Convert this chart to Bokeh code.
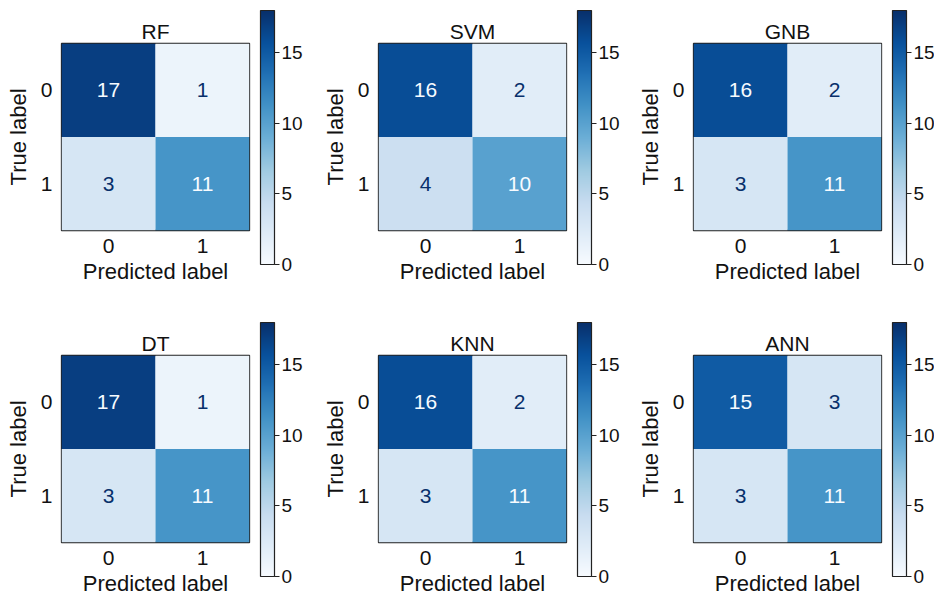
import numpy as np
from bokeh.plotting import figure
from bokeh.models import ColumnDataSource, LinearColorMapper, FixedTicker, Range1d, ColorBar
from bokeh.layouts import row, column
from bokeh.palettes import Blues256
from bokeh.transform import transform
from bokeh.core.properties import value
from bokeh.embed import file_html
from bokeh.resources import INLINE

# ---- data -------------------------------------------------------------
models = ["RF", "SVM", "GNB", "DT", "KNN", "ANN"]
cm_rf = [[17, 1], [3, 11]]
cm_svm = [[16, 2], [4, 10]]
cm_gnb = [[16, 2], [3, 11]]
cm_dt = [[17, 1], [3, 11]]
cm_knn = [[16, 2], [3, 11]]
cm_ann = [[15, 3], [3, 11]]
matrices = [cm_rf, cm_svm, cm_gnb, cm_dt, cm_knn, cm_ann]
class_labels = ["0", "1"]
cbar_ticks = [0, 5, 10, 15]
vmin, vmax = 0, 18

FONT = "Liberation Sans"
TXT = "#111111"
EDGE = "#222222"
palette = tuple(reversed(Blues256))
mapper = LinearColorMapper(palette=palette, low=vmin, high=vmax)
threshold = (vmin + vmax) / 2.0


def panel(title, cm, top_b, bottom_b, left_b, right_b):
    xs, ys, vals, txt, tcol = [], [], [], [], []
    for i in range(len(cm)):
        for j in range(len(cm[i])):
            xs.append(j)
            ys.append(i)
            vals.append(cm[i][j])
            txt.append(str(cm[i][j]))
            tcol.append("#f7fbff" if cm[i][j] > threshold else "#08306b")
    src = ColumnDataSource(dict(x=xs, y=ys, v=vals, t=txt, c=tcol))
    p = figure(output_backend="svg", toolbar_location=None,
               frame_width=188, frame_height=187,
               x_range=Range1d(-0.5, 1.5), y_range=Range1d(1.5, -0.5),
               min_border_left=left_b, min_border_right=right_b,
               min_border_top=top_b, min_border_bottom=bottom_b,
               title=title)
    p.rect(x="x", y="y", width=1, height=1, source=src,
           fill_color=transform("v", mapper), line_color=None)
    p.text(x="x", y="y", text="t", text_color="c", source=src,
           text_align="center", text_baseline="middle",
           text_font=value(FONT), text_font_size="21px")
    p.grid.visible = False
    p.outline_line_color = EDGE
    p.outline_line_width = 1.3
    p.title.align = "center"
    p.title.text_font = FONT
    p.title.text_font_size = "21px"
    p.title.text_font_style = "normal"
    p.title.text_color = TXT
    p.title.standoff = 2
    for ax in (p.xaxis[0], p.yaxis[0]):
        ax.ticker = FixedTicker(ticks=[0, 1])
        ax.major_label_overrides = {0: class_labels[0], 1: class_labels[1]}
        ax.major_tick_out = 0
        ax.major_tick_in = 0
        ax.minor_tick_out = 0
        ax.minor_tick_in = 0
        ax.axis_line_color = None
        ax.major_label_text_font = FONT
        ax.major_label_text_font_size = "21px"
        ax.major_label_text_color = TXT
        ax.axis_label_text_font = FONT
        ax.axis_label_text_font_size = "22px"
        ax.axis_label_text_font_style = "normal"
        ax.axis_label_text_color = TXT
    p.xaxis.axis_label = "Predicted label"
    p.yaxis.axis_label = "True label"
    p.xaxis.major_label_standoff = 8
    p.xaxis.axis_label_standoff = 3
    p.yaxis.major_label_standoff = 9
    p.yaxis.axis_label_standoff = 7
    p.yaxis.major_label_orientation = "horizontal"

    cb = ColorBar(color_mapper=mapper, ticker=FixedTicker(ticks=cbar_ticks),
                  orientation="vertical", location=(199, -34),
                  width=14, height=254, padding=0, margin=0,
                  bar_line_color=EDGE, bar_line_width=1.2,
                  major_tick_line_color=EDGE, major_tick_in=0, major_tick_out=5,
                  minor_tick_line_color=None,
                  label_standoff=2,
                  major_label_text_font=FONT, major_label_text_font_size="19px",
                  major_label_text_color=TXT,
                  background_fill_color=None, border_line_color=None)
    p.add_layout(cb)
    return p


lefts = [61, 69, 67]
rights = [60, 60, 53]
tops = [43, 43]
bottoms = [82, 61]

rows = []
for r in range(2):
    kids = []
    for c in range(3):
        k = r * 3 + c
        kids.append(panel(models[k], matrices[k], tops[r], bottoms[r], lefts[c], rights[c]))
    rows.append(row(*kids))

layout = column(*rows)

open("out.html", "w").write(file_html(layout, INLINE))
